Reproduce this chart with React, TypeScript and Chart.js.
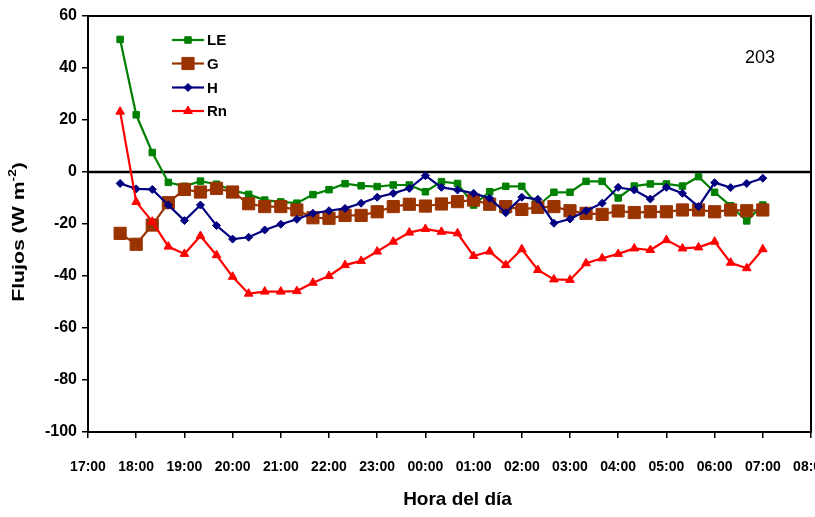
import React, { useEffect, useRef } from 'react';
import { Chart, registerables } from 'chart.js';
import { drawPoint } from 'chart.js/helpers';

Chart.register(...registerables);

const times = [
  '17:40', '18:00', '18:20', '18:40', '19:00', '19:20', '19:40', '20:00', '20:20', '20:40',
  '21:00', '21:20', '21:40', '22:00', '22:20', '22:40', '23:00', '23:20', '23:40', '00:00',
  '00:20', '00:40', '01:00', '01:20', '01:40', '02:00', '02:20', '02:40', '03:00', '03:20',
  '03:40', '04:00', '04:20', '04:40', '05:00', '05:20', '05:40', '06:00', '06:20', '06:40',
  '07:00',
];

const LE = [51, 22, 7.5, -4, -5.5, -3.5, -4.7, -7, -8.6, -10.8, -11.5, -12, -8.7, -6.8, -4.5, -5.3, -5.6, -5, -5, -7.6, -3.7, -4.4, -12.7, -7.6, -5.5, -5.5, -13, -7.8, -7.8, -3.6, -3.6, -10, -5.4, -4.6, -4.6, -5.4, -1.8, -7.8, -13, -18.8, -12.7];
const G = [-23.6, -27.8, -20.4, -11.8, -6.7, -7.7, -6.3, -7.7, -12.2, -13.3, -13.3, -14.6, -17.6, -17.8, -16.7, -16.7, -15.3, -13.3, -12.4, -13.1, -12.3, -11.4, -10.8, -12.4, -13.3, -14.4, -13.6, -13.3, -14.9, -15.9, -16.3, -15, -15.6, -15.3, -15.3, -14.6, -14.6, -15.3, -14.6, -14.9, -14.6];
const H = [-4.4, -6.5, -6.7, -12.7, -18.7, -12.7, -20.6, -25.8, -25.1, -22.3, -20.1, -18.2, -15.9, -14.9, -14, -12, -9.7, -8.2, -6.3, -1.4, -5.9, -6.9, -8.2, -10.1, -15.7, -9.7, -10.5, -19.7, -18.1, -14.9, -12, -5.9, -6.9, -10.4, -5.9, -8.2, -13.3, -4.1, -6, -4.4, -2.4];
const Rn = [23.2, -11.5, -19.1, -28.7, -31.5, -24.6, -32, -40.3, -46.8, -46, -46, -45.8, -42.6, -40, -35.8, -34.2, -30.6, -26.8, -23.3, -21.9, -23, -23.6, -32.3, -30.6, -35.8, -29.7, -37.7, -41.3, -41.5, -35.1, -33.2, -31.5, -29.4, -30, -26.2, -29.4, -29, -26.8, -34.9, -37, -29.7];

const xTickLabels = ['17:00', '18:00', '19:00', '20:00', '21:00', '22:00', '23:00', '00:00', '01:00', '02:00', '03:00', '04:00', '05:00', '06:00', '07:00', '08:00'];
const seriesNames = ['LE', 'G', 'H', 'Rn'];
const panelLabel = '203';
const xTitle = 'Hora del día';
const yTitleMain = 'Flujos (W m';
const yTitleSup = '-2';
const yTitleEnd = ')';

const FONT = "'Liberation Sans', Arial, sans-serif";

function toHour(t: string): number {
  const [h, m] = t.split(':').map(Number);
  const v = h + m / 60;
  return v < 12 ? v + 24 : v;
}

function pts(vals: number[]) {
  return vals.map((y, i) => ({ x: toHour(times[i]), y }));
}

const decorPlugin = {
  id: 'decor',
  beforeDatasetsDraw(chart: any) {
    const { ctx, chartArea } = chart;
    const y0 = chart.scales.y.getPixelForValue(0);
    ctx.save();
    ctx.strokeStyle = '#000';
    ctx.lineWidth = 2.5;
    ctx.beginPath();
    ctx.moveTo(chartArea.left, y0);
    ctx.lineTo(chartArea.right, y0);
    ctx.stroke();
    ctx.lineWidth = 2;
    ctx.strokeRect(chartArea.left, chartArea.top, chartArea.right - chartArea.left, chartArea.bottom - chartArea.top);
    ctx.restore();
  },
  afterDraw(chart: any) {
    const { ctx, chartArea } = chart;
    ctx.save();
    // legend
    const lx = chartArea.left + 84;
    const ys = [24, 47.5, 71.5, 95];
    chart.data.datasets.forEach((ds: any, i: number) => {
      const y = chartArea.top + ys[i];
      ctx.strokeStyle = ds.borderColor;
      ctx.fillStyle = ds.backgroundColor;
      ctx.lineWidth = ds.borderWidth;
      ctx.beginPath();
      ctx.moveTo(lx, y);
      ctx.lineTo(lx + 32, y);
      ctx.stroke();
      ctx.lineWidth = 1;
      drawPoint(ctx, { pointStyle: ds.pointStyle, radius: ds.pointRadius, rotation: 0, borderWidth: 1 } as any, lx + 16, y);
      ctx.fillStyle = '#000';
      ctx.font = `bold 15px ${FONT}`;
      ctx.textAlign = 'left';
      ctx.textBaseline = 'middle';
      ctx.fillText(seriesNames[i], lx + 35, y + 1);
    });
    // panel label
    ctx.font = `18px ${FONT}`;
    ctx.textAlign = 'center';
    ctx.textBaseline = 'middle';
    ctx.fillText(panelLabel, chartArea.right - 51, chartArea.top + 42);
    // x title
    ctx.font = `bold 19px ${FONT}`;
    ctx.fillText(xTitle, (chartArea.left + chartArea.right) / 2 + 8, chartArea.bottom + 68);
    // y title with superscript (stretched along its length)
    ctx.translate(19, (chartArea.top + chartArea.bottom) / 2 + 8);
    ctx.rotate(-Math.PI / 2);
    ctx.scale(1.25, 1);
    ctx.font = `bold 17px ${FONT}`;
    const w1 = ctx.measureText(yTitleMain).width;
    ctx.font = `bold 11px ${FONT}`;
    const w2 = ctx.measureText(yTitleSup).width;
    ctx.font = `bold 17px ${FONT}`;
    const w3 = ctx.measureText(yTitleEnd).width;
    const total = w1 + w2 + w3;
    let x = -total / 2;
    ctx.textAlign = 'left';
    ctx.fillText(yTitleMain, x, 0);
    x += w1;
    ctx.font = `bold 11px ${FONT}`;
    ctx.fillText(yTitleSup, x, -6);
    x += w2;
    ctx.font = `bold 17px ${FONT}`;
    ctx.fillText(yTitleEnd, x, 0);
    ctx.restore();
  },
};

export default function App() {
  const ref = useRef<HTMLCanvasElement | null>(null);
  useEffect(() => {
    document.body.style.margin = '0';
    if (!ref.current) return;
    const mk = (label: string, vals: number[], color: string, style: string, r: number, order: number) => ({
      label,
      data: pts(vals),
      borderColor: color,
      backgroundColor: color,
      pointBackgroundColor: color,
      pointBorderColor: color,
      pointStyle: style,
      pointRadius: r,
      pointBorderWidth: 1,
      borderWidth: 2.2,
      tension: 0,
      order,
    });
    const chart = new Chart(ref.current, {
      type: 'line',
      data: {
        datasets: [
          mk(seriesNames[0], LE, '#008000', 'rect', 4.6, 3),
          mk(seriesNames[1], G, '#993300', 'rect', 8.6, 2),
          mk(seriesNames[2], H, '#000080', 'rectRot', 4, 1),
          mk(seriesNames[3], Rn, '#FF0000', 'triangle', 5, 0),
        ] as any,
      },
      options: {
        animation: false,
        responsive: true,
        maintainAspectRatio: false,
        layout: { autoPadding: false, padding: { top: 16, right: 4, left: 0, bottom: 0 } },
        plugins: { legend: { display: false }, tooltip: { enabled: false }, title: { display: false } },
        scales: {
          x: {
            type: 'linear',
            min: 17,
            max: 32,
            border: { display: true, color: '#000', width: 2 },
            grid: { drawOnChartArea: false, drawTicks: true, tickLength: 6, color: '#000', lineWidth: 1.5 },
            ticks: {
              stepSize: 1,
              autoSkip: false,
              maxRotation: 0,
              padding: 21,
              color: '#000',
              font: { family: FONT, size: 14, weight: 'bold' },
              callback: (_v: any, i: number) => xTickLabels[i],
            },
            afterFit: (s: any) => {
              s.height = 85;
              s.paddingLeft = 0;
              s.paddingRight = 0;
            },
          },
          y: {
            min: -100,
            max: 60,
            border: { display: true, color: '#000', width: 2 },
            grid: { drawOnChartArea: false, drawTicks: true, tickLength: 6, color: '#000', lineWidth: 1.5 },
            ticks: {
              stepSize: 20,
              padding: 5,
              color: '#000',
              font: { family: FONT, size: 16, weight: 'bold' },
            },
            afterFit: (s: any) => {
              s.width = 88;
            },
          },
        },
      } as any,
      plugins: [decorPlugin],
    });
    return () => chart.destroy();
  }, []);
  return (
    <div style={{ width: 815, height: 517, position: 'relative' }}>
      <canvas ref={ref} />
    </div>
  );
}
